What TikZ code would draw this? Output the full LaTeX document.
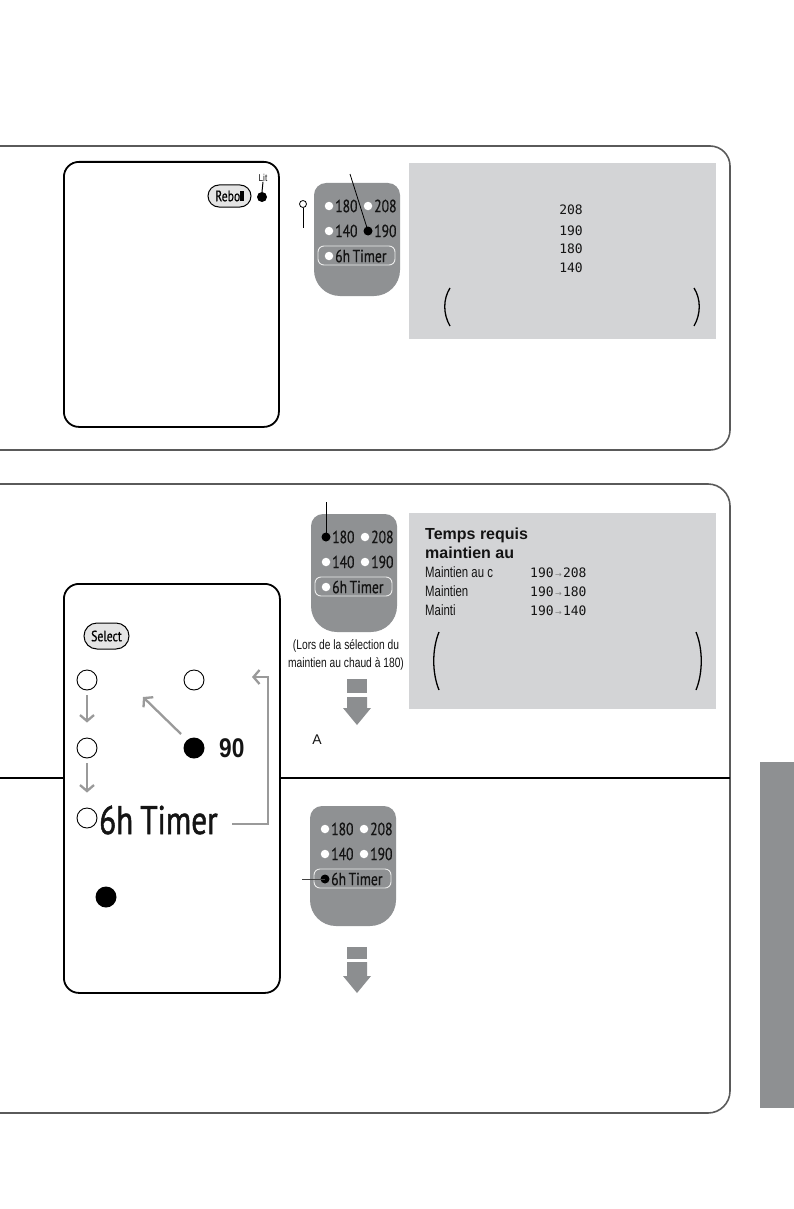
\documentclass[tikz,border=0pt]{standalone}
\usepackage{fontspec}
\setmainfont{Liberation Sans}
\newfontfamily\narrowfont[FakeStretch=0.76]{Liberation Sans}
\newfontfamily\capfont[FakeStretch=0.82]{Liberation Sans}
\newfontfamily\condfont[FakeStretch=0.78,FakeBold=0.6]{PT Sans}
\newfontfamily\bigcondfont[FakeStretch=0.78,FakeBold=1.2]{PT Sans}
\newfontfamily\boldnarrow[FakeStretch=0.84]{Liberation Sans Bold}
\newfontfamily\lcdfont{DejaVu Sans Mono}
\newfontfamily\symfont{DejaVu Sans}
\usetikzlibrary{arrows.meta}
\definecolor{framegray}{HTML}{5A5A5A}
\definecolor{lcdgray}{HTML}{D3D4D6}
\definecolor{ctrlgray}{HTML}{8F9193}
\definecolor{tabgray}{HTML}{8E9092}
\definecolor{arrowgray}{HTML}{9A9A9A}
\definecolor{blockgray}{HTML}{8C8E90}
\definecolor{txtdark}{HTML}{141414}
\definecolor{btngray}{HTML}{E4E4E4}
\newcommand{\ctrlpanel}[9]{%
  \fill[ctrlgray] (#2,{#3+#4/2}) [rounded corners=12pt] -- (#2,#3) -- ({#2+86},#3) -- ({#2+86},{#3+#4/2}) [rounded corners=26pt] -- ({#2+86},{#3+#4}) -- (#2,{#3+#4}) -- cycle;
  \draw[timerframe] ({#2+4},{#3+63}) rectangle ({#2+81},{#3+82});
  \node[#5] (#1a) at ({#2+15},{#3+23}) {};
  \node[ptxt] (#1al) at ({#2+21},{#3+23}) {180};
  \node[#6] (#1b) at ({#2+54},{#3+23}) {};
  \node[ptxt] (#1bl) at ({#2+60},{#3+23}) {208};
  \node[#7] (#1c) at ({#2+15},{#3+48}) {};
  \node[ptxt] (#1cl) at ({#2+21},{#3+48}) {140};
  \node[#8] (#1d) at ({#2+54},{#3+48}) {};
  \node[ptxt] (#1dl) at ({#2+60},{#3+48}) {190};
  \node[#9] (#1t) at ({#2+15},{#3+73}) {};
  \node[ptxt] (#1tl) at ({#2+21},{#3+73}) {6h\hspace{2.5pt}Timer};
}
\begin{document}
\begin{tikzpicture}[x=1pt,y=-1pt,
  frame/.style={draw=framegray,line width=1.6pt},
  wbox/.style={draw=black,line width=1.8pt,rounded corners=15pt,fill=white},
  timerframe/.style={draw=white!85!gray,line width=0.9pt,rounded corners=6pt},
  wdot/.style={circle,fill=white,inner sep=0pt,minimum size=8.5pt},
  bdot/.style={circle,fill=black,inner sep=0pt,minimum size=9pt},
  ptxt/.style={anchor=west,inner sep=0pt,text=txtdark,font=\condfont\fontsize{17.5}{17.5}\selectfont},
  ocirc/.style={circle,draw=black,line width=0.9pt,fill=white,inner sep=0pt,minimum size=20pt},
  fcirc/.style={circle,fill=black,inner sep=0pt,minimum size=21pt},
  garrow/.style={draw=arrowgray,line width=2.3pt,-{Straight Barb[length=6pt,width=14pt]}},
  pill/.style={draw=black,line width=1pt,fill=btngray,rounded corners=11pt,inner sep=0pt,font=\condfont\fontsize{15}{15}\selectfont},
  narrowtxt/.style={anchor=base west,inner sep=0pt,text=txtdark,font=\narrowfont\fontsize{15}{15}\selectfont},
  boldtxt/.style={anchor=base west,inner sep=0pt,text=txtdark,font=\bfseries\fontsize{16}{16}\selectfont},
  lcdtxt/.style={inner sep=0pt,text=txtdark,font=\lcdfont\fontsize{13}{13}\selectfont},
  paren/.style={draw=black,line width=1.3pt},
  pointer/.style={draw=black,line width=0.8pt}
]
\useasboundingbox (0,0) rectangle (794,1209);
\fill[white] (0,0) rectangle (794,1209);

% ---------- panel frames ----------
\draw[frame,rounded corners=20pt] (0,146) -- (730,146) -- (730,450) -- (0,450);
\draw[frame,rounded corners=22pt] (0,484) -- (730,484) -- (730,1113) -- (0,1113);
\draw[line width=1.6pt,black] (0,778) -- (730,778);

% side tab
\fill[tabgray] (760,762) rectangle (794,1108);

% ---------- panel 1 ----------
\node[wbox,minimum width=215pt,minimum height=265pt,anchor=north west] (box1) at (63,161) {};
\node[pill,minimum width=43pt,minimum height=22pt] (rebo) at (229.5,196) {Rebo\rule{3.5pt}{10pt}};
\node[circle,fill=black,inner sep=0pt,minimum size=10pt] (litdot) at (262,197) {};
\node[inner sep=0pt,font=\capfont\fontsize{10}{10}\selectfont,text=txtdark] (lit) at (263,178) {Lit};
\draw[black,line width=1pt] (lit.south) -- (litdot.north);

\ctrlpanel{pa}{314}{183}{113}{wdot}{wdot}{wdot}{bdot}{wdot}
\coordinate (ptrA) at (350,174);
\draw[pointer] (ptrA) -- (pad.center);
\node[circle,draw=black,line width=0.8pt,fill=white,inner sep=0pt,minimum size=7pt] (lol) at (303,204) {};
\coordinate (lolend) at (303,228);
\draw[pointer] (lol.south) -- (lolend);

\fill[lcdgray] (409,163) rectangle (716,339);
\node[lcdtxt,anchor=base east] (v208) at (583,214) {208};
\node[lcdtxt,anchor=base east] (v190) at (583,235) {190};
\node[lcdtxt,anchor=base east] (v180) at (583,253) {180};
\node[lcdtxt,anchor=base east] (v140) at (583,272) {140};
\draw[paren] (450,288) .. controls (443,299) and (443,314) .. (450,326);
\draw[paren] (694,288) .. controls (701,299) and (701,314) .. (694,326);

% ---------- panel 2 ----------
\node[wbox,minimum width=216pt,minimum height=409pt,anchor=north west] (box2) at (63,583) {};
\node[pill,minimum width=45pt,minimum height=26pt,rounded corners=13pt] (select) at (106.5,636) {Select};
\node[ocirc] (c1) at (87,680) {};
\node[ocirc] (c4) at (194,680) {};
\node[ocirc] (c2) at (87,748) {};
\node[fcirc] (c90) at (194,748) {};
\node[anchor=west,inner sep=0pt,text=txtdark,font=\boldnarrow\fontsize{27}{27}\selectfont] (t90) at (219,748) {90};
\node[ocirc] (c3) at (87,818) {};
\node[anchor=west,inner sep=0pt,text=txtdark,font=\bigcondfont\fontsize{40}{40}\selectfont] (bigtimer) at (99,820) {6h\hspace{7pt}Timer};
\node[fcirc] (c5) at (106,897) {};
\draw[garrow,shorten <=5pt,shorten >=15pt] (c1.south) -- (c2.north);
\draw[garrow,shorten <=5pt,shorten >=15pt] (c2.south) -- (c3.north);
\coordinate (dgS) at (181,734);
\coordinate (dgE) at (143,697);
\draw[garrow] (dgS) -- (dgE);
\coordinate (brS) at (232,824);
\coordinate (brT) at (252,677);
\draw[garrow] (brS) -- (268,824) -- (268,677) -- (brT);

\ctrlpanel{pb}{311}{514}{118}{bdot}{wdot}{wdot}{wdot}{wdot}
\coordinate (ptrB) at (326,502);
\draw[pointer] (ptrB) -- (pba.center);
\node[align=center,inner sep=0pt,text=txtdark,font=\narrowfont\fontsize{13.5}{18}\selectfont] (caption) at (346,655) {(Lors de la sélection du\\maintien au chaud à 180)};
\fill[blockgray] (347,679) rectangle (367,693);
\fill[blockgray] (347,697) -- (367,697) -- (367,708) -- (371,708) -- (357,725) -- (343,708) -- (347,708) -- cycle;
\node[inner sep=0pt,text=txtdark,font=\fontsize{14}{14}\selectfont] (lblA) at (317,740) {A};

\fill[lcdgray] (409,513) rectangle (716,709);
\node[boldtxt] (tr1) at (425,539) {Temps requis};
\node[boldtxt] (tr2) at (425,558) {maintien au};
\node[narrowtxt] (m1) at (425,577) {Maintien au c};
\node[narrowtxt] (m2) at (425,596) {Maintien};
\node[narrowtxt] (m3) at (425,615) {Mainti};
\node[lcdtxt,anchor=base west] (r1) at (530,577) {190{\symfont\fontsize{8}{8}\selectfont\color{gray}\,→\,}208};
\node[lcdtxt,anchor=base west] (r2) at (530,596) {190{\symfont\fontsize{8}{8}\selectfont\color{gray}\,→\,}180};
\node[lcdtxt,anchor=base west] (r3) at (530,615) {190{\symfont\fontsize{8}{8}\selectfont\color{gray}\,→\,}140};
\draw[paren] (439,632) .. controls (432,649) and (432,673) .. (439,690);
\draw[paren] (696,632) .. controls (703,649) and (703,673) .. (696,690);

% ---------- panel 3 ----------
\ctrlpanel{pc}{310}{806}{120}{wdot}{wdot}{wdot}{wdot}{bdot}
\coordinate (ptrC) at (302,879);
\draw[draw=txtdark!80,line width=0.8pt] (ptrC) -- (pct.center);
\fill[blockgray] (347,947) rectangle (367,959);
\fill[blockgray] (347,962) -- (367,962) -- (367,976) -- (371,976) -- (357,993) -- (343,976) -- (347,976) -- cycle;
\end{tikzpicture}
\end{document}
